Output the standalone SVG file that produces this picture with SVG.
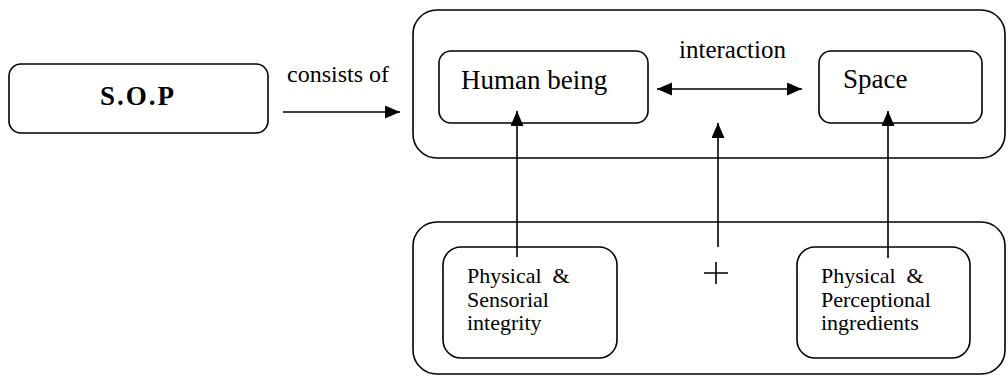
<svg xmlns="http://www.w3.org/2000/svg" width="1008" height="377" viewBox="0 0 1008 377">
  <style>
    .box { fill: #ffffff; stroke: #000000; stroke-width: 1.6; }
    .frame { fill: none; stroke: #000000; stroke-width: 1.6; }
    .link { fill: none; stroke: #000000; stroke-width: 1.6; }
    .big { font-size: 27px; }
    .mid { font-size: 25px; }
    .small { font-size: 22px; }
  </style>
  <defs>
    <marker id="head" markerUnits="userSpaceOnUse" markerWidth="16" markerHeight="14" refX="15" refY="6.5" orient="auto-start-reverse">
      <path d="M0,0 L15,6.5 L0,13 Z" fill="#000000"/>
    </marker>
  </defs>

  <rect width="1008" height="377" fill="#ffffff"/>

  <g font-family="Liberation Serif, DejaVu Serif, serif" fill="#000000">
    <!-- outer containers -->
    <g id="whole">
      <rect class="frame" x="413" y="10" width="592" height="148" rx="24" ry="24"/>
    </g>
    <g id="factors">
      <rect class="frame" x="413" y="222" width="592" height="152" rx="24" ry="24"/>
    </g>

    <!-- nodes -->
    <g id="sop">
      <rect class="box" x="9" y="64" width="259" height="69" rx="12" ry="12"/>
      <text class="big" x="138" y="105" text-anchor="middle" font-weight="bold" letter-spacing="2">S.O.P</text>
    </g>
    <g id="human">
      <rect class="box" x="439" y="51" width="209" height="72" rx="12" ry="12"/>
      <text class="big" x="461" y="89">Human being</text>
    </g>
    <g id="space">
      <rect class="box" x="819" y="51" width="163" height="72" rx="12" ry="12"/>
      <text class="big" x="843" y="88">Space</text>
    </g>
    <g id="sensorial">
      <rect class="box" x="443" y="247" width="174" height="111" rx="18" ry="18"/>
      <text class="small" x="467" y="283">Physical&#160; &amp;</text>
      <text class="small" x="467" y="307">Sensorial</text>
      <text class="small" x="467" y="330">integrity</text>
    </g>
    <g id="perceptional">
      <rect class="box" x="797" y="247" width="173" height="111" rx="18" ry="18"/>
      <text class="small" x="821" y="283">Physical&#160; &amp;</text>
      <text class="small" x="821" y="307">Perceptional</text>
      <text class="small" x="821" y="330">ingredients</text>
    </g>
    <g id="plus">
      <path class="link" d="M704,273 H728 M716,262 V284"/>
    </g>

    <!-- connectors -->
    <g id="connectors">
      <path class="link" d="M283,112 H400" marker-end="url(#head)"/>
      <text font-size="24" x="287" y="82">consists of</text>
      <path class="link" d="M657,89 H802" marker-start="url(#head)" marker-end="url(#head)"/>
      <text class="mid" x="679" y="58">interaction</text>
      <path class="link" d="M517,257 V111" marker-end="url(#head)"/>
      <path class="link" d="M718,247 V123" marker-end="url(#head)"/>
      <path class="link" d="M888,258 V111" marker-end="url(#head)"/>
    </g>
  </g>
</svg>
